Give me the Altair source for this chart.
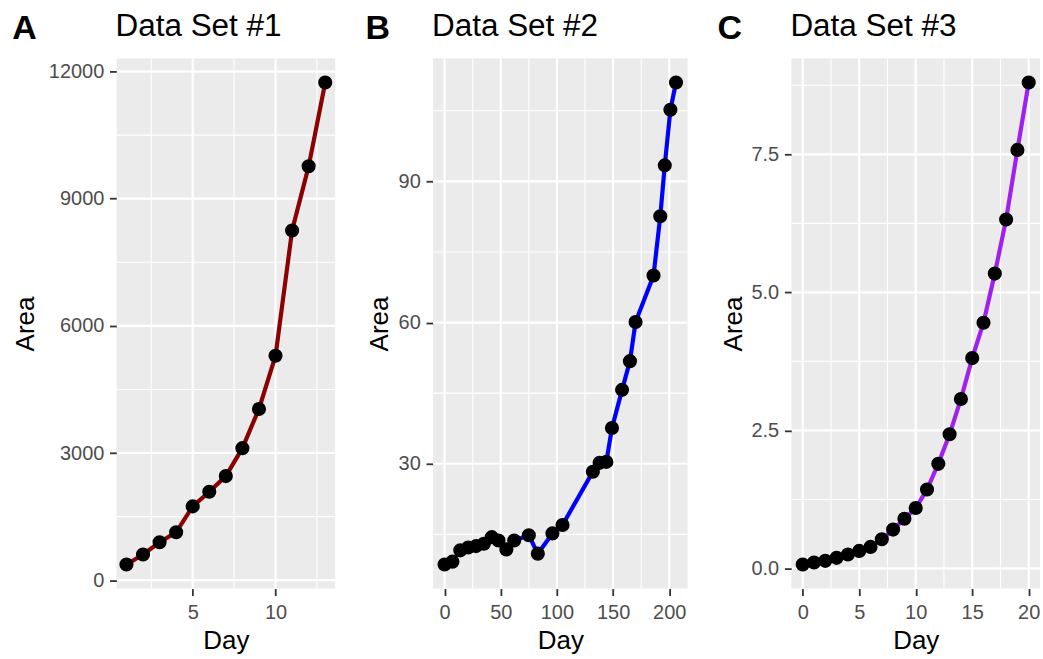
import altair as alt
import pandas as pd

# ---------------- data ----------------
day1 = [1, 2, 3, 4, 5, 6, 7, 8, 9, 10, 11, 12, 13]
area1 = [370, 605, 894, 1129, 1741, 2087, 2455, 3114, 4039, 5294, 8251, 9765, 11741]

day2 = [0, 7, 14, 21, 28, 35, 42, 48, 55, 62, 75, 83, 96, 105, 132, 138, 144,
        149, 158, 165, 170, 186, 192, 196, 201, 206]
area2 = [8.6, 9.2, 11.6, 12.2, 12.5, 13.0, 14.4, 13.7, 11.8, 13.7, 14.8, 10.9,
         15.2, 17.0, 28.3, 30.2, 30.4, 37.6, 45.7, 51.8, 60.1, 70.0, 82.6, 93.4,
         105.2, 111.0]

day3 = [0, 1, 2, 3, 4, 5, 6, 7, 8, 9, 10, 11, 12, 13, 14, 15, 16, 17, 18, 19, 20]
area3 = [0.072, 0.108, 0.138, 0.192, 0.252, 0.318, 0.39, 0.529, 0.704, 0.90,
         1.094, 1.43, 1.895, 2.43, 3.07, 3.81, 4.45, 5.34, 6.32, 7.58, 8.80]

titles = ["Data Set #1", "Data Set #2", "Data Set #3"]
tags = ["A", "B", "C"]
colors = ["#8B0000", "#0000FF", "#A020F0"]

a_x_major = [5, 10]
a_x_minor = [2.5, 7.5, 12.5]
a_y_major = [0, 3000, 6000, 9000, 12000]
a_y_minor = [1500, 4500, 7500, 10500]

b_x_major = [0, 50, 100, 150, 200]
b_x_minor = [25, 75, 125, 175]
b_y_major = [30, 60, 90]
b_y_minor = [15, 45, 75, 105]

c_x_major = [0, 5, 10, 15, 20]
c_x_minor = [2.5, 7.5, 12.5, 17.5]
c_y_major = [0, 2.5, 5, 7.5]
c_y_minor = [1.25, 3.75, 6.25, 8.75]

FONT = "Liberation Sans"
PANEL_H = 531


def expand(vals):
    lo, hi = min(vals), max(vals)
    p = 0.05 * (hi - lo)
    return [lo - p, hi + p]


def panel(days, areas, color, title, tag, x_major, x_minor, y_major, y_minor,
          y_fmt, width, tag_x, area_title_x):
    xs = alt.Scale(domain=expand(days), nice=False, zero=False)
    ys = alt.Scale(domain=expand(areas), nice=False, zero=False)
    df = pd.DataFrame({"Day": days, "Area": areas})

    x_axis = alt.Axis(
        values=x_major, grid=False, domain=False, tickSize=7, tickWidth=1.8,
        tickColor="#333333", labelColor="#4D4D4D", labelFontSize=20,
        labelFont=FONT, labelPadding=22.7, labelBaseline="alphabetic",
        labelFlush=False, labelOverlap=False, title="Day", titleFont=FONT,
        titleFontSize=26, titleFontWeight="normal", titleColor="black",
        titleBaseline="alphabetic", titleY=60.3,
    )
    y_axis = alt.Axis(
        values=y_major, format=y_fmt, grid=False, domain=False, tickSize=7,
        tickWidth=1.8, tickColor="#333333", labelColor="#4D4D4D",
        labelFontSize=20, labelFont=FONT, labelPadding=5.7, labelFlush=False,
        labelOverlap=False, title="Area", titleFont=FONT, titleFontSize=26,
        titleFontWeight="normal", titleColor="black",
        titleBaseline="alphabetic", titleX=area_title_x,
    )

    def vgrid(vals, w):
        return alt.Chart(pd.DataFrame({"v": vals})).mark_rule(
            color="white", strokeWidth=w, clip=True
        ).encode(x=alt.X("v:Q", scale=xs, axis=x_axis))

    def hgrid(vals, w):
        return alt.Chart(pd.DataFrame({"v": vals})).mark_rule(
            color="white", strokeWidth=w, clip=True
        ).encode(y=alt.Y("v:Q", scale=ys, axis=y_axis))

    line = alt.Chart(df).mark_line(color=color, strokeWidth=4.2).encode(
        x=alt.X("Day:Q", scale=xs, axis=x_axis),
        y=alt.Y("Area:Q", scale=ys, axis=y_axis),
    )
    pts = alt.Chart(df).mark_circle(color="black", opacity=1, size=200).encode(
        x=alt.X("Day:Q", scale=xs, axis=x_axis),
        y=alt.Y("Area:Q", scale=ys, axis=y_axis),
    )
    ttl = alt.Chart(pd.DataFrame({"t": [title]})).mark_text(
        align="left", baseline="alphabetic", font=FONT, fontSize=31.5, color="black"
    ).encode(x=alt.value(-1), y=alt.value(-22), text="t:N")
    tg = alt.Chart(pd.DataFrame({"t": [tag]})).mark_text(
        align="left", baseline="alphabetic", font=FONT, fontSize=34,
        fontWeight="bold", color="black"
    ).encode(x=alt.value(tag_x), y=alt.value(-19), text="t:N")

    return alt.layer(
        vgrid(x_minor, 1.1), hgrid(y_minor, 1.1),
        vgrid(x_major, 2.2), hgrid(y_major, 2.2),
        line, pts, ttl, tg,
    ).properties(width=width, height=PANEL_H)


pa = panel(day1, area1, colors[0], titles[0], tags[0], a_x_major, a_x_minor,
           a_y_major, a_y_minor, "d", 219, -104.5, -82.7)
pb = panel(day2, area2, colors[1], titles[1], tags[1], b_x_major, b_x_minor,
           b_y_major, b_y_minor, "d", 255, -67.7, -46)
pc = panel(day3, area3, colors[2], titles[2], tags[2], c_x_major, c_x_minor,
           c_y_major, c_y_minor, ".1f", 249, -74, -50)

chart = alt.hconcat(pa, pb, pc, spacing=30).properties(
    padding={"left": 11.7, "top": 11, "right": 3, "bottom": 5},
    background="white",
).configure_view(fill="#EBEBEB", strokeWidth=0)

chart.save("out.html", embed_options={"renderer": "svg", "actions": False})
